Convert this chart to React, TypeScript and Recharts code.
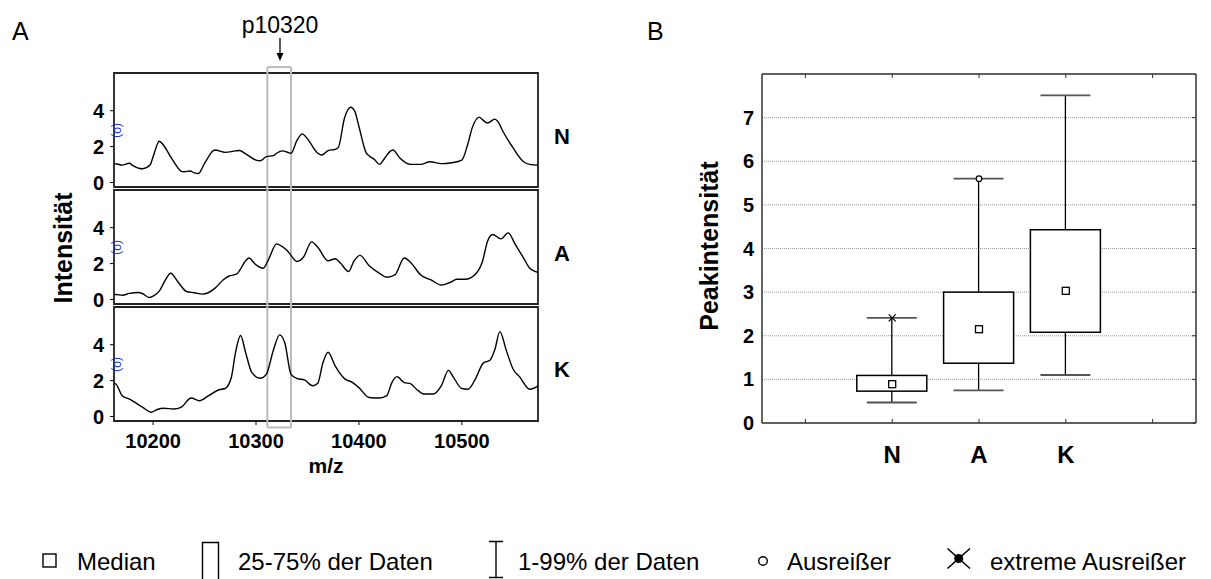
import React from "react";
import {
  LineChart,
  Line,
  XAxis,
  YAxis,
  ReferenceLine,
  ReferenceArea,
  ReferenceDot,
  ComposedChart,
  Bar,
  Scatter,
  CartesianGrid,
} from "recharts";

document.body.style.margin = "0";

const FONT = "'Liberation Sans', Arial, sans-serif";

// ---- Panel A: spectra (m/z vs intensity) ----
const mzN = [10162, 10165, 10170, 10177, 10180, 10187, 10190, 10197, 10200, 10206, 10210, 10216, 10220, 10227, 10230, 10236, 10240, 10244, 10250, 10260, 10270, 10280, 10284, 10290, 10300, 10304, 10310, 10317, 10320, 10326, 10330, 10334, 10340, 10345, 10350, 10360, 10364, 10370, 10377, 10380, 10386, 10392, 10396, 10400, 10407, 10410, 10415, 10420, 10425, 10430, 10433, 10440, 10450, 10460, 10469, 10480, 10490, 10500, 10506, 10510, 10517, 10520, 10525, 10532, 10535, 10540, 10550, 10560, 10566, 10574];
const intN = [1.05, 1.03, 0.97, 1.07, 0.95, 0.78, 0.77, 0.97, 1.44, 2.3, 2.09, 1.53, 1.16, 0.64, 0.6, 0.64, 0.54, 0.5, 1.07, 1.81, 1.68, 1.76, 1.78, 1.59, 1.25, 1.21, 1.44, 1.5, 1.63, 1.76, 1.7, 1.63, 2.37, 2.71, 2.43, 1.63, 1.53, 1.78, 1.85, 1.96, 3.59, 4.19, 3.96, 3.12, 1.66, 1.48, 1.29, 1.01, 1.35, 1.72, 1.81, 1.35, 1.01, 1.01, 1.16, 1.05, 1.1, 1.25, 2.19, 3.03, 3.64, 3.5, 3.31, 3.53, 3.4, 2.84, 1.91, 1.16, 1.01, 0.97];

const mzA = [10162, 10164, 10170, 10177, 10185, 10190, 10196, 10200, 10206, 10212, 10217, 10224, 10233, 10240, 10248, 10260, 10268, 10274, 10281, 10290, 10293, 10300, 10307, 10312, 10320, 10326, 10331, 10340, 10346, 10354, 10360, 10370, 10377, 10382, 10390, 10395, 10401, 10410, 10420, 10427, 10435, 10444, 10450, 10460, 10470, 10480, 10490, 10495, 10504, 10514, 10520, 10525, 10530, 10538, 10545, 10552, 10560, 10566, 10574];
const intA = [0.28, 0.28, 0.24, 0.34, 0.39, 0.32, 0.11, 0.19, 0.47, 1.09, 1.46, 0.99, 0.43, 0.38, 0.3, 0.62, 1.09, 1.31, 1.41, 2.16, 2.31, 1.93, 1.74, 2.21, 3.1, 2.93, 2.68, 2.12, 2.35, 3.21, 2.91, 2.16, 2.27, 2.03, 1.56, 2.12, 2.46, 1.88, 1.46, 1.24, 1.37, 2.31, 2.08, 1.37, 1.09, 0.81, 0.99, 1.13, 1.13, 1.46, 2.12, 3.25, 3.62, 3.38, 3.71, 3.06, 2.31, 1.74, 1.5];

const mzK = [10162, 10164, 10170, 10177, 10190, 10198, 10204, 10210, 10220, 10227, 10237, 10245, 10254, 10264, 10270, 10276, 10280, 10285, 10290, 10296, 10304, 10310, 10317, 10323, 10328, 10334, 10340, 10347, 10355, 10360, 10365, 10370, 10377, 10386, 10394, 10400, 10410, 10420, 10427, 10432, 10437, 10444, 10450, 10456, 10463, 10472, 10480, 10487, 10492, 10500, 10506, 10513, 10521, 10527, 10532, 10537, 10543, 10550, 10556, 10566, 10574];
const intK = [1.85, 1.8, 1.16, 0.97, 0.51, 0.24, 0.39, 0.46, 0.42, 0.51, 1.03, 0.88, 1.16, 1.49, 1.56, 2.17, 3.54, 4.51, 3.54, 2.44, 2.13, 2.35, 3.72, 4.55, 4.09, 2.35, 2.11, 2.04, 1.71, 1.85, 2.99, 3.58, 2.81, 2.11, 1.89, 1.61, 1.06, 1.03, 1.16, 1.89, 2.22, 1.89, 1.83, 1.52, 1.25, 1.25, 1.71, 2.57, 2.17, 1.56, 1.52, 2.07, 2.99, 3.12, 3.72, 4.73, 3.72, 2.62, 2.22, 1.52, 1.71];

const mzTicks = [10200, 10300, 10400, 10500];
const intTicks = [0, 2, 4];
const peakLo = 10311;
const peakHi = 10334;

// ---- Panel B: box plot of the peak ----
const boxCats = ["", "N", "A", "K", ""];
const boxMin = [null, 0.47, 0.75, 1.1, null];
const boxQ1 = [null, 0.73, 1.37, 2.08, null];
const boxMedian = [null, 0.89, 2.15, 3.03, null];
const boxQ3 = [null, 1.09, 3.0, 4.43, null];
const boxMax = [null, 2.41, 5.6, 7.51, null];
const boxOutlier = [null, null, 5.6, null, null];
const boxExtreme = [null, 2.41, null, null, null];
const peakTicks = [0, 1, 2, 3, 4, 5, 6, 7];

const X_DOMAIN = [10162, 10574];
const Y_DOMAIN = [-0.25, 6.1];

const tickStyle = { fontSize: 20, fontWeight: 700, fill: "#000", fontFamily: FONT };

function BlueMark(props: any) {
  const { cx, cy } = props;
  return (
    <text
      x={cx}
      y={cy}
      fill="#2233dd"
      fontSize={12}
      fontFamily={FONT}
      textAnchor="middle"
      dominantBaseline="central"
      transform={`rotate(90 ${cx} ${cy})`}
    >
      (o)
    </text>
  );
}

function Spectrum({ mz, values, top, showX, yLo, yHi, capTop, capBottom }: any) {
  const data = mz.map((m: number, i: number) => ({ mz: m, v: values[i] }));
  const height = showX ? 10 + 114 + 40 : 10 + 114 + 10;
  return (
    <div style={{ position: "absolute", left: 0, top: top - 10 }}>
      <LineChart
        width={580}
        height={height}
        data={data}
        margin={{ top: 10, right: 42, left: 54, bottom: showX ? 0 : 10 }}
      >
        <XAxis
          type="number"
          dataKey="mz"
          domain={X_DOMAIN}
          ticks={mzTicks}
          allowDataOverflow
          hide={!showX}
          height={40}
          axisLine={false}
          tickLine={{ stroke: "#000" }}
          tickSize={4}
          tickMargin={9}
          tick={tickStyle}
        />
        <YAxis
          type="number"
          domain={Y_DOMAIN}
          ticks={intTicks}
          allowDataOverflow
          width={60}
          axisLine={false}
          tickLine={{ stroke: "#000" }}
          tickSize={4}
          tickMargin={6}
          tick={tickStyle}
        />
        <ReferenceArea
          x1={X_DOMAIN[0]}
          x2={X_DOMAIN[1]}
          y1={Y_DOMAIN[0]}
          y2={Y_DOMAIN[1]}
          fill="none"
          fillOpacity={0}
          stroke="#222"
          strokeWidth={1.8}
          ifOverflow="visible"
        />
        <ReferenceLine
          segment={[{ x: peakLo, y: yLo }, { x: peakLo, y: yHi }]}
          stroke="#bbbbbb"
          strokeWidth={2}
          ifOverflow="visible"
        />
        <ReferenceLine
          segment={[{ x: peakHi, y: yLo }, { x: peakHi, y: yHi }]}
          stroke="#bbbbbb"
          strokeWidth={2}
          ifOverflow="visible"
        />
        {capTop && (
          <ReferenceLine
            segment={[{ x: peakLo, y: yHi }, { x: peakHi, y: yHi }]}
            stroke="#bbbbbb"
            strokeWidth={2}
            ifOverflow="visible"
          />
        )}
        {capBottom && (
          <ReferenceLine
            segment={[{ x: peakLo, y: yLo }, { x: peakHi, y: yLo }]}
            stroke="#bbbbbb"
            strokeWidth={2}
            ifOverflow="visible"
          />
        )}
        <ReferenceDot x={10166} y={2.9} r={3} ifOverflow="visible" shape={BlueMark} />
        <Line
          type="monotone"
          dataKey="v"
          stroke="#000"
          strokeWidth={1.4}
          dot={false}
          isAnimationActive={false}
        />
      </LineChart>
    </div>
  );
}

function BoxShape(props: any) {
  const { x, y, width, height, payload } = props;
  if (!payload || payload.min == null) return null;
  const top = Math.min(y, y + height);
  const bot = Math.max(y, y + height);
  const span = bot - top;
  const py = (v: number) => top + (span * (payload.max - v)) / (payload.max - payload.min);
  const cx = x + width / 2;
  return (
    <g>
      <line x1={cx} x2={cx} y1={py(payload.max)} y2={py(payload.q3)} stroke="#000" strokeWidth={1.3} />
      <line x1={cx} x2={cx} y1={py(payload.q1)} y2={py(payload.min)} stroke="#000" strokeWidth={1.3} />
      <rect
        x={x}
        y={py(payload.q3)}
        width={width}
        height={py(payload.q1) - py(payload.q3)}
        fill="#fff"
        stroke="#000"
        strokeWidth={1.5}
      />
      <line x1={cx - 25} x2={cx + 25} y1={py(payload.max)} y2={py(payload.max)} stroke="#555" strokeWidth={1.8} />
      <line x1={cx - 25} x2={cx + 25} y1={py(payload.min)} y2={py(payload.min)} stroke="#555" strokeWidth={1.8} />
    </g>
  );
}

function MedianShape(props: any) {
  const { cx, cy, payload } = props;
  if (!payload || payload.median == null || cx == null || cy == null) return null;
  return <rect x={cx - 3.5} y={cy - 3.5} width={7} height={7} fill="#fff" stroke="#000" strokeWidth={1.3} />;
}

function OutlierShape(props: any) {
  const { cx, cy, payload } = props;
  if (!payload || payload.outlier == null || cx == null || cy == null) return null;
  return <circle cx={cx} cy={cy} r={2.8} fill="#fff" stroke="#000" strokeWidth={1.2} />;
}

function ExtremeShape(props: any) {
  const { cx, cy, payload } = props;
  if (!payload || payload.extreme == null || cx == null || cy == null) return null;
  return (
    <g stroke="#000" strokeWidth={1.3}>
      <line x1={cx - 3.5} y1={cy - 3.5} x2={cx + 3.5} y2={cy + 3.5} />
      <line x1={cx + 3.5} y1={cy - 3.5} x2={cx - 3.5} y2={cy + 3.5} />
    </g>
  );
}

function NoShape() {
  return null;
}

function BottomTick(props: any) {
  const { x, y, payload } = props;
  return (
    <g>
      <line x1={x} x2={x} y1={y} y2={y - 4} stroke="#333" strokeWidth={1} />
      <text x={x} y={y + 40} textAnchor="middle" fontSize={24} fontWeight={700} fontFamily={FONT} fill="#000">
        {payload.value}
      </text>
    </g>
  );
}

function TopTick(props: any) {
  const { x, y } = props;
  return <line x1={x} x2={x} y1={y} y2={y + 4} stroke="#333" strokeWidth={1} />;
}

function RightTick(props: any) {
  const { x, y } = props;
  return <line x1={x} x2={x - 4} y1={y} y2={y} stroke="#333" strokeWidth={1} />;
}

function BoxPanel() {
  const data = boxCats.map((name, i) => ({
    name,
    min: boxMin[i],
    q1: boxQ1[i],
    median: boxMedian[i],
    q3: boxQ3[i],
    max: boxMax[i],
    outlier: boxOutlier[i],
    extreme: boxExtreme[i],
  }));
  return (
    <div style={{ position: "absolute", left: 690, top: 60 }}>
      <ComposedChart width={520} height={420} data={data} margin={{ top: 13, right: 13, left: 32, bottom: 17 }}>
        <CartesianGrid horizontal vertical={false} stroke="#999" strokeDasharray="1 1" />
        <XAxis
          dataKey="name"
          type="category"
          interval={0}
          height={40}
          axisLine={{ stroke: "#333", strokeWidth: 1.5 }}
          tickLine={false}
          tickSize={0}
          tickMargin={0}
          tick={BottomTick}
        />
        <XAxis
          xAxisId="t"
          dataKey="name"
          type="category"
          orientation="top"
          interval={0}
          height={1}
          axisLine={{ stroke: "#333", strokeWidth: 1.5 }}
          tickLine={false}
          tickSize={0}
          tickMargin={0}
          tick={TopTick}
        />
        <YAxis
          type="number"
          domain={[0, 8]}
          ticks={peakTicks}
          width={40}
          axisLine={{ stroke: "#333", strokeWidth: 1.5 }}
          tickLine={false}
          tick={{ fontSize: 20, fontWeight: 700, fill: "#000", fontFamily: FONT }}
        />
        <YAxis
          yAxisId="r"
          orientation="right"
          type="number"
          domain={[0, 8]}
          ticks={peakTicks}
          width={1}
          axisLine={{ stroke: "#333", strokeWidth: 1.5 }}
          tickLine={false}
          tickSize={0}
          tickMargin={0}
          tick={RightTick}
        />
        <Bar
          dataKey={(d: any) => (d.min == null ? null : [d.min, d.max])}
          barSize={70}
          shape={BoxShape}
          isAnimationActive={false}
        />
        <Scatter dataKey="median" shape={MedianShape} isAnimationActive={false} />
        <Scatter dataKey="outlier" shape={OutlierShape} isAnimationActive={false} />
        <Scatter dataKey="extreme" shape={ExtremeShape} isAnimationActive={false} />
        <Scatter xAxisId="t" yAxisId="r" dataKey="median" shape={NoShape} isAnimationActive={false} />
      </ComposedChart>
    </div>
  );
}

function Overlay() {
  const txt = { fontFamily: FONT, fill: "#000" };
  return (
    <svg
      width={1211}
      height={579}
      style={{ position: "absolute", left: 0, top: 0, pointerEvents: "none" }}
    >
      <text x={12} y={40} fontSize={25} {...txt}>A</text>
      <text x={647} y={40} fontSize={25} {...txt}>B</text>
      <text x={280} y={33} fontSize={23} textAnchor="middle" {...txt}>p10320</text>
      <line x1={280} x2={280} y1={38} y2={55} stroke="#000" strokeWidth={1.3} />
      <polygon points="276.5,53 283.5,53 280,61" fill="#000" />

      <text x={562} y={144} fontSize={22} fontWeight={700} textAnchor="middle" {...txt}>N</text>
      <text x={562} y={261} fontSize={22} fontWeight={700} textAnchor="middle" {...txt}>A</text>
      <text x={562} y={377} fontSize={22} fontWeight={700} textAnchor="middle" {...txt}>K</text>

      <text
        transform="translate(72 248) rotate(-90)"
        fontSize={25}
        fontWeight={700}
        textAnchor="middle"
        {...txt}
      >
        Intensität
      </text>
      <text x={326} y={473} fontSize={21} fontWeight={700} textAnchor="middle" {...txt}>m/z</text>
      <text
        transform="translate(718 246) rotate(-90)"
        fontSize={25}
        fontWeight={700}
        textAnchor="middle"
        {...txt}
      >
        Peakintensität
      </text>

      {/* legend */}
      <g fontSize={24} {...txt}>
        <rect x={43} y={554} width={13} height={13} fill="none" stroke="#000" strokeWidth={1.4} />
        <text x={77} y={570}>Median</text>
        <path d="M202.5 580 V542.5 H218.5 V580" fill="none" stroke="#000" strokeWidth={1.4} />
        <text x={238} y={570}>25-75% der Daten</text>
        <path d="M489 541.5 H503 M496 541.5 V577.5 M489 577.5 H503" fill="none" stroke="#000" strokeWidth={1.4} />
        <text x={518} y={570}>1-99% der Daten</text>
        <circle cx={763} cy={561} r={4.3} fill="none" stroke="#000" strokeWidth={1.4} />
        <text x={787} y={570}>Ausreißer</text>
        <path d="M947.5 548.5 L970 568.5 M970 548.5 L947.5 568.5" stroke="#000" strokeWidth={1.6} />
        <circle cx={958.7} cy={558.5} r={4.5} fill="#000" />
        <text x={990} y={570}>extreme Ausreißer</text>
      </g>
    </svg>
  );
}

export default function App() {
  return (
    <div
      style={{
        position: "relative",
        width: 1211,
        height: 579,
        background: "#fff",
        fontFamily: FONT,
        overflow: "hidden",
      }}
    >
      <Spectrum mz={mzN} values={intN} top={73} showX={false} yLo={-0.42} yHi={6.43} capTop />
      <Spectrum mz={mzA} values={intA} top={190} showX={false} yLo={-0.42} yHi={6.27} />
      <Spectrum mz={mzK} values={intK} top={307} showX yLo={-0.61} yHi={6.27} capBottom />
      <BoxPanel />
      <Overlay />
    </div>
  );
}
